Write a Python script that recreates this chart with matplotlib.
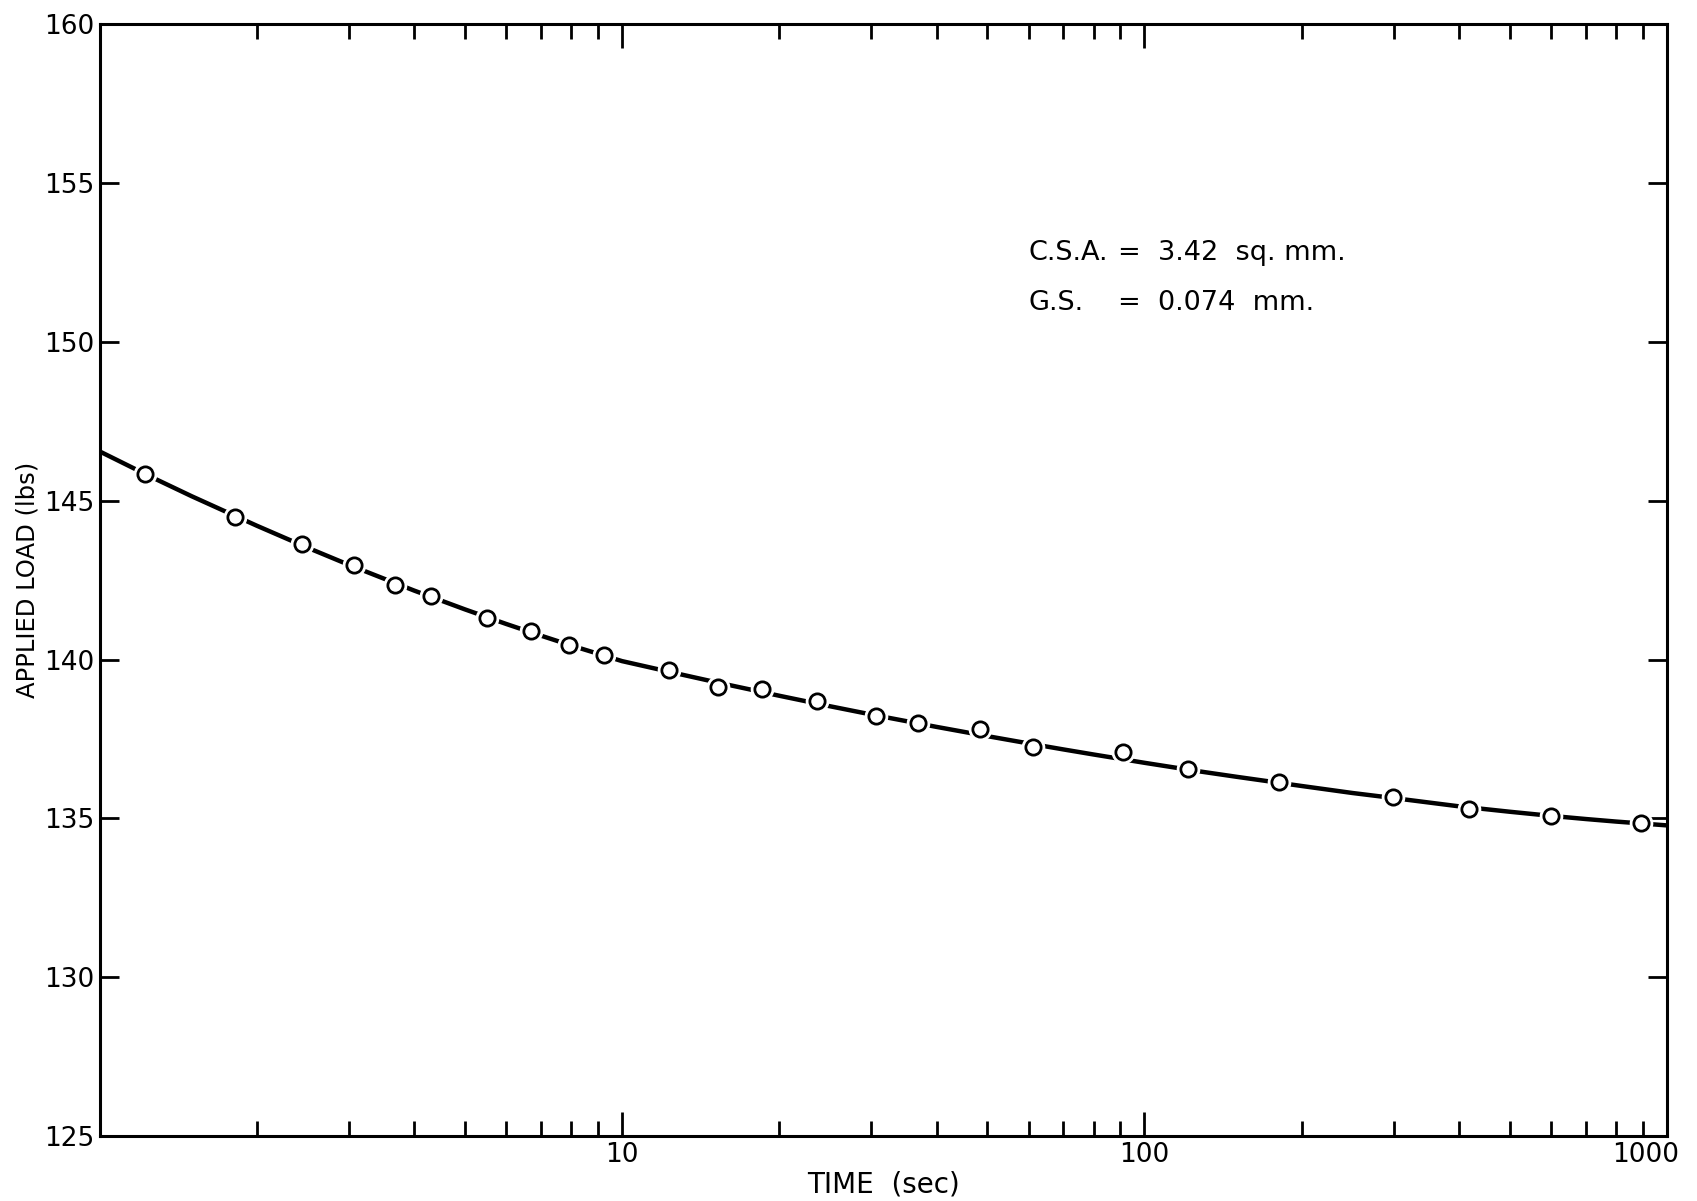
import matplotlib
matplotlib.use('Agg')
import matplotlib.pyplot as plt
import matplotlib.transforms as mtransforms
from matplotlib.ticker import LogLocator, NullFormatter, FixedFormatter, FixedLocator

# measured points
time_s = [1.22, 1.82, 2.44, 3.07, 3.67, 4.30, 5.51, 6.70, 7.92, 9.22,
          12.3, 15.3, 18.5, 23.6, 30.7, 36.9, 48.4, 61.2, 91, 121,
          181, 299, 418, 600, 891]
load_lbs = [145.84, 144.47, 143.62, 142.98, 142.33, 141.99, 141.31, 140.90, 140.46, 140.15,
            139.67, 139.13, 139.06, 138.69, 138.21, 138.00, 137.80, 137.26, 137.09, 136.54,
            136.13, 135.66, 135.28, 135.08, 134.87]

# fitted curve
curve_t = [1, 1.25, 1.5, 2, 2.5, 3, 4, 5, 6, 7, 8, 10,
           12.5, 15, 20, 25, 30, 40, 50, 60, 70, 80, 100,
           125, 150, 200, 250, 300, 400, 500, 600, 700, 800, 1000]
curve_y = [146.55, 145.76, 145.14, 144.21, 143.52, 142.98, 142.17, 141.58, 141.12, 140.75, 140.44, 139.95,
           139.59, 139.30, 138.86, 138.53, 138.27, 137.88, 137.59, 137.36, 137.17, 137.01, 136.75,
           136.50, 136.31, 136.02, 135.80, 135.64, 135.38, 135.21, 135.08, 134.98, 134.90, 134.78]

yticks = [125, 130, 135, 140, 145, 150, 155, 160]
xtick_vals = [10, 100, 1000]
xtick_labels = ['10', '100', '1000']

fig = plt.figure(figsize=(16.97, 12.01), dpi=100)
ax = fig.add_axes([0.0587, 0.054, 0.9235, 0.926])

ax.plot(curve_t, curve_y, color='black', lw=3.2, zorder=2)
ax.plot(time_s, load_lbs, 'o', ms=16, mfc='white', mec='white', zorder=3)
ax.plot(time_s, load_lbs, 'o', ms=11, mfc='white', mec='black', mew=2, zorder=4)

ax.set_xscale('log')
ax.set_xlim(1, 1000)
ax.set_ylim(125, 160)

ax.xaxis.set_major_locator(FixedLocator(xtick_vals))
ax.xaxis.set_major_formatter(FixedFormatter(xtick_labels))
ax.xaxis.set_minor_locator(LogLocator(base=10, subs=range(2, 10)))
ax.xaxis.set_minor_formatter(NullFormatter())
ax.set_yticks(yticks)
ax.set_yticklabels([str(v) for v in yticks])

ax.tick_params(axis='x', which='major', direction='in', length=17, width=2,
               top=True, bottom=True, labelsize=19, pad=4)
ax.tick_params(axis='x', which='minor', direction='in', length=11, width=2,
               top=True, bottom=True)
ax.tick_params(axis='y', which='major', direction='in', length=14, width=2,
               left=True, right=True, labelsize=19, pad=4)

# the last label sits a bit inside the frame
last = ax.get_xticklabels()[-1]
last.set_transform(last.get_transform() +
                   mtransforms.ScaledTranslation(-15 / 72, 0, fig.dpi_scale_trans))

for s in ax.spines.values():
    s.set_linewidth(2.2)

ax.set_ylabel('APPLIED LOAD (lbs)', fontsize=17.5, labelpad=3)
ax.set_xlabel('TIME  (sec)', fontsize=20, labelpad=2)

ax.text(0.593, 0.788, 'C.S.A.', transform=ax.transAxes, fontsize=19.5, va='baseline')
ax.text(0.650, 0.788, '=  3.42  sq. mm.', transform=ax.transAxes, fontsize=19.5, va='baseline')
ax.text(0.593, 0.743, 'G.S.', transform=ax.transAxes, fontsize=19.5, va='baseline')
ax.text(0.650, 0.743, '=  0.074  mm.', transform=ax.transAxes, fontsize=19.5, va='baseline')

fig.savefig('out.png', dpi=100)
